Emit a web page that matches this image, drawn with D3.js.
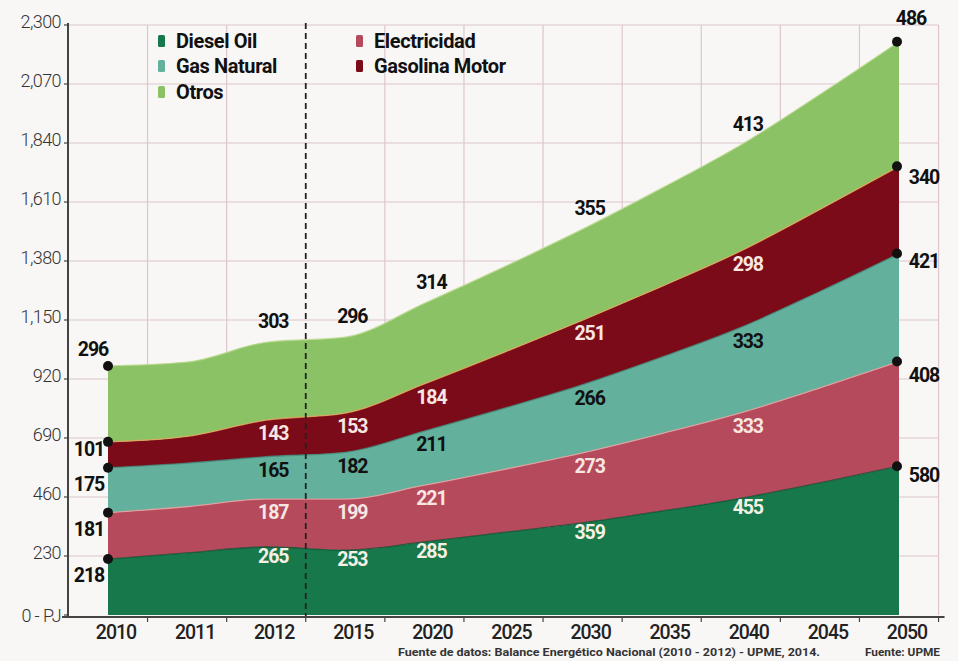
<!DOCTYPE html>
<html><head><meta charset="utf-8">
<script src="https://cdn.jsdelivr.net/npm/d3@7"></script>
<style>
html,body{margin:0;padding:0;background:#f9f7f6;}
svg{display:block;}
text{font-family:Roboto,"Open Sans",sans-serif;}
</style></head>
<body>
<svg id="c" width="958" height="661"></svg>
<script>
const years = ["2010","2011","2012","2015","2020","2025","2030","2035","2040","2045","2050"];
const seriesNames = ["Diesel Oil","Electricidad","Gas Natural","Gasolina Motor","Otros"];
const diesel      = [218,242,265,253,285,322,359,405,455,515,580];
const electricidad= [181,180,187,199,221,245,273,302,333,370,408];
const gasNatural  = [175,170,165,182,211,238,266,298,333,376,421];
const gasolina    = [101,104,143,153,184,218,251,276,298,320,340];
const otros       = [296,290,303,296,314,333,355,383,413,448,486];
const yTicks = [0,230,460,690,920,1150,1380,1610,1840,2070,2300];
const yTickLabels = ["0 - PJ","230","460","690","920","1,150","1,380","1,610","1,840","2,070","2,300"];
const labelYears = ["2012","2015","2020","2030","2040"];
const colors = ["#17784c","#b44a5b","#63b09d","#7b0b19","#8cc266"];
const edgeColors = ["#0d4f31","#f0a0a0","#3d8c79","#e6a75a","#b8d98a"];
const innerLabelColors = ["#f4f0e4","#f7e6e2","#111","#f7e6e2"];

const data = years.map((y,i)=>({year:y,"Diesel Oil":diesel[i],"Electricidad":electricidad[i],"Gas Natural":gasNatural[i],"Gasolina Motor":gasolina[i],"Otros":otros[i]}));
const stack = d3.stack().keys(seriesNames)(data);

const svg = d3.select("#c");
const x = d3.scalePoint().domain(years).range([108,899]);
const y = d3.scaleLinear().domain([0,2300]).range([615,25]);
const step = x.step();
const xLeft = 68, xRight = x(years[years.length-1]) + step/2;

// grid
const g = svg.append("g");
g.selectAll(".hg").data(yTicks.slice(1)).join("line")
  .attr("x1",xLeft).attr("x2",xRight).attr("y1",d=>y(d)).attr("y2",d=>y(d))
  .attr("stroke","#dcc6cc").attr("stroke-width",1.2);
g.selectAll(".vg").data(years).join("line")
  .attr("x1",d=>x(d)+step/2).attr("x2",d=>x(d)+step/2).attr("y1",y(2300)).attr("y2",y(0))
  .attr("stroke",(d)=>d==="2012"?"none":"#dcc6cc").attr("stroke-width",1.2);

// areas
const area = d3.area().x(d=>x(d.data.year)).y0(d=>y(d[0])).y1(d=>y(d[1])).curve(d3.curveMonotoneX);
const line = d3.line().x(d=>x(d.data.year)).y(d=>y(d[1])).curve(d3.curveMonotoneX);
svg.append("g").selectAll("path").data(stack).join("path")
  .attr("d",area).attr("fill",(d,i)=>colors[i]);
svg.append("g").selectAll("path").data(stack).join("path")
  .attr("d",line).attr("fill","none").attr("stroke",(d,i)=>edgeColors[i]).attr("stroke-width",1.3).attr("opacity",0.8);

// dashed line
svg.append("line").attr("x1",x("2012")+step/2).attr("x2",x("2012")+step/2)
  .attr("y1",y(2300)-2).attr("y2",y(0)+2).attr("stroke","#222").attr("stroke-width",1.8).attr("stroke-dasharray","6,4");

// axes
svg.append("line").attr("x1",xLeft).attr("x2",xLeft).attr("y1",y(2300)-2).attr("y2",y(0)+2).attr("stroke","#444").attr("stroke-width",2);
svg.append("line").attr("x1",xLeft-6).attr("x2",xRight+6).attr("y1",y(0)+2).attr("y2",y(0)+2).attr("stroke","#444").attr("stroke-width",2);
svg.selectAll(".yt").data(yTicks).join("line").attr("x1",xLeft-4).attr("x2",xLeft).attr("y1",d=>y(d)).attr("y2",d=>y(d)).attr("stroke","#444").attr("stroke-width",1.2);
svg.selectAll(".xt").data(years).join("line").attr("x1",d=>x(d)+step/2).attr("x2",d=>x(d)+step/2).attr("y1",y(0)+2).attr("y2",y(0)+7).attr("stroke","#444").attr("stroke-width",1.2);
svg.selectAll(".yl").data(yTicks).join("text")
  .attr("x",61).attr("y",(d,i)=>i===0?y(d)+2:y(d)-2).attr("text-anchor","end").attr("dominant-baseline","middle")
  .attr("font-size",18).attr("font-weight",300).attr("letter-spacing","-0.6px").attr("fill","#333").text((d,i)=>yTickLabels[i]);
svg.selectAll(".xl").data(years).join("text")
  .attr("x",d=>x(d)+8).attr("y",639).attr("text-anchor","middle")
  .attr("font-size",19.5).attr("font-weight",500).attr("letter-spacing","-1px").attr("fill","#222").text(d=>d);

// inner labels
const lab = svg.append("g").attr("font-size",19.5).attr("font-weight",700).attr("letter-spacing","-1.1px").attr("text-anchor","middle").attr("dominant-baseline","middle");
stack.forEach((s,si)=>{
  s.forEach((d,i)=>{
    const yr = d.data.year;
    if(!labelYears.includes(yr)) return;
    const val = d[1]-d[0];
    if(si===4){
      lab.append("text").attr("x",x(yr)+7).attr("y",y(d[1])-19).attr("fill","#111").text(val);
    } else {
      lab.append("text").attr("x",x(yr)+7).attr("y",y(d[1])+(si===0?11:15)).attr("fill",innerLabelColors[si]).text(val);
    }
  });
});

// end dots & labels
const first = years[0], last = years[years.length-1];
const leftDy = [18,18,18,9,-15];
const rightDy = [11,15,9,13,-22];
stack.forEach((s,si)=>{
  const d0 = s[0], d1 = s[s.length-1];
  svg.append("circle").attr("cx",x(first)).attr("cy",y(d0[1])).attr("r",5).attr("fill","#111");
  svg.append("circle").attr("cx",x(last)-2).attr("cy",y(d1[1])).attr("r",5).attr("fill","#111");
  lab.append("text").attr("x",si===4?x(first)-15:x(first)-19).attr("y",y(d0[1])+leftDy[si]).attr("fill","#111").text(d0[1]-d0[0]);
  lab.append("text").attr("x",si===4?x(last)+12:x(last)+25).attr("y",y(d1[1])+rightDy[si]).attr("fill","#111").text(d1[1]-d1[0]);
});

// legend
const legPos = [[158,42],[356,42],[158,67],[356,67],[158,93]];
const leg = svg.append("g");
seriesNames.forEach((n,i)=>{
  const [lx,ly] = legPos[i];
  leg.append("rect").attr("x",lx).attr("y",ly-7).attr("width",7).attr("height",12).attr("rx",1.5).attr("fill",colors[i]);
  leg.append("text").attr("x",lx+18).attr("y",ly+1).attr("dominant-baseline","middle")
    .attr("font-size",20).attr("font-weight",700).attr("letter-spacing","-0.4px").attr("fill","#111").text(n);
});

// sources
svg.append("text").attr("x",398).attr("y",656).attr("font-size",10.5).attr("font-weight",700)
  .attr("textLength",422).attr("lengthAdjust","spacingAndGlyphs").attr("fill","#333")
  .text("Fuente de datos: Balance Energético Nacional (2010 - 2012) - UPME, 2014.");
svg.append("text").attr("x",865).attr("y",656).attr("font-size",10.5).attr("font-weight",700)
  .attr("textLength",75).attr("lengthAdjust","spacingAndGlyphs").attr("fill","#333")
  .text("Fuente: UPME");
</script>
</body></html>
